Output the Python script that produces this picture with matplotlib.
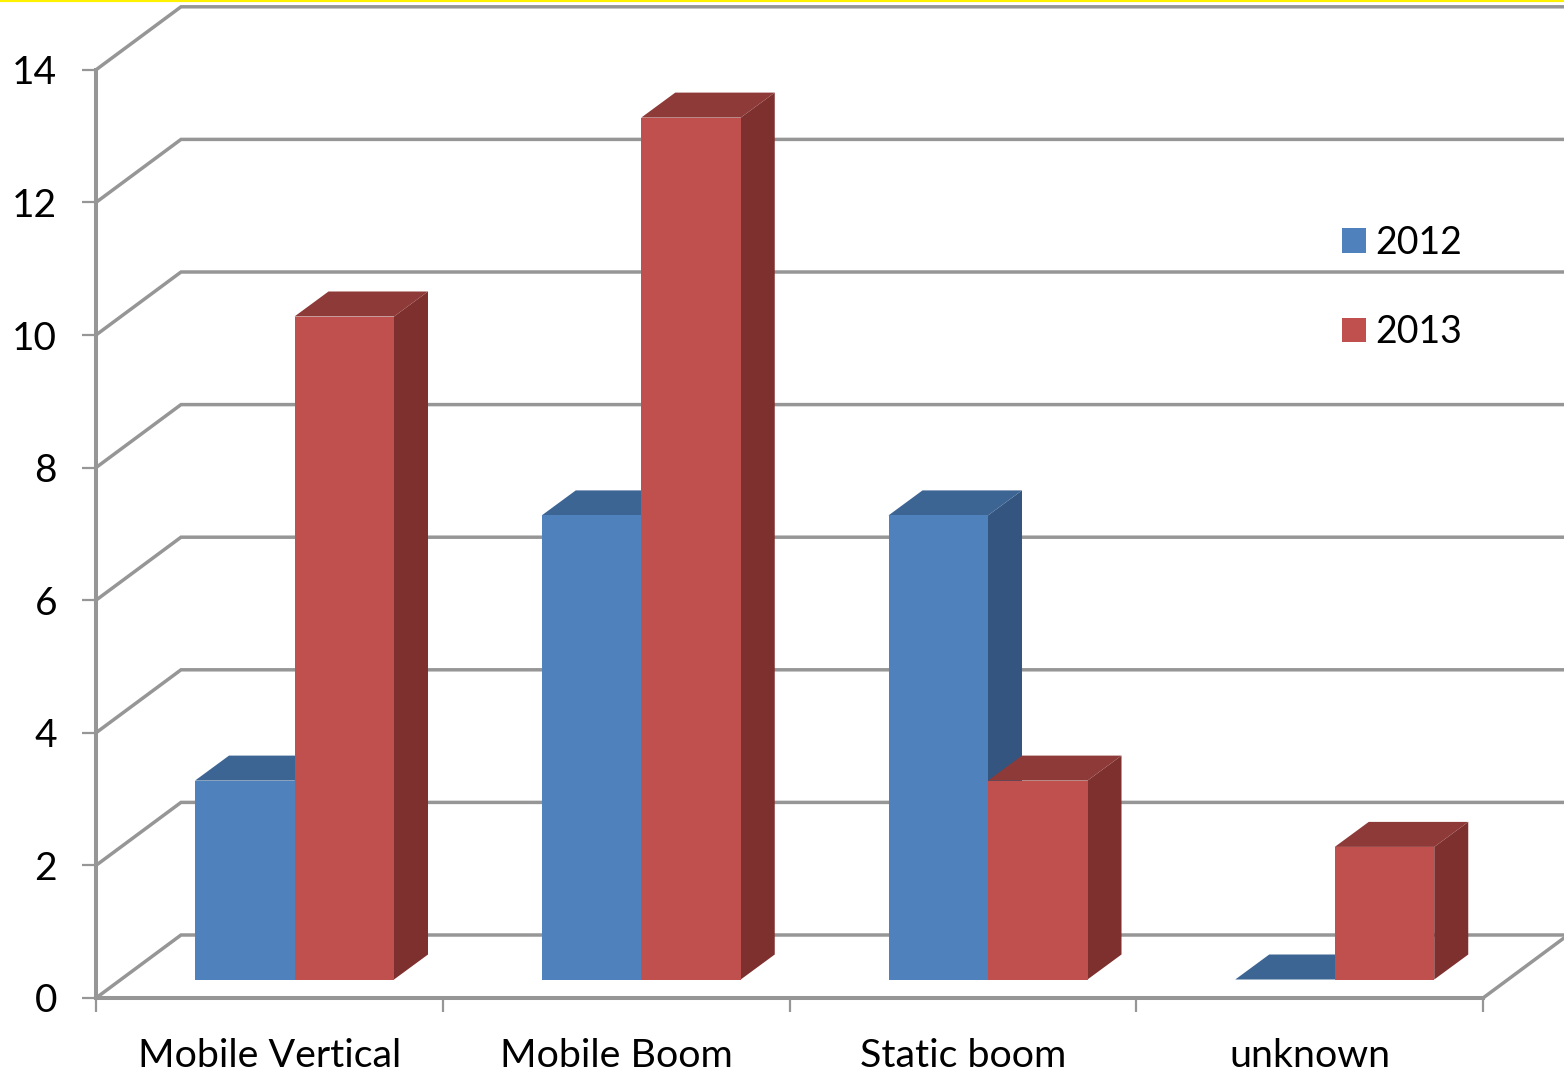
import numpy as np
import matplotlib.pyplot as plt
from matplotlib.patches import Patch

categories = ['Mobile Vertical', 'Mobile Boom', 'Static boom', 'unknown']
values_2012 = [3, 7, 7, 0]
values_2013 = [10, 13, 3, 2]
series_names = ['2012', '2013']
y_ticks = [0, 2, 4, 6, 8, 10, 12, 14]

plt.rcParams['font.family'] = ['Lato', 'DejaVu Sans']

# pixel sizes
W, H = 1564, 1071
x_px = 346.75
y_px = 66.3
x0_px, y0_px = 96, 998

GRID = '#969696'
LW = 2.5

fig = plt.figure(figsize=(W / 100, H / 100), dpi=100)
ax = fig.add_axes([0, 0, 1, 1])
ax.set_xlim(-x0_px / x_px, (W - x0_px) / x_px)
ax.set_ylim(-(H - y0_px) / y_px, y0_px / y_px)

# depth of the wall and of the bars, in data units
wall_dx, wall_dy = 85 / x_px, 63 / y_px
bar_dx, bar_dy = 34 / x_px, 25 / y_px
bar_off = 99 / x_px
bar_w = 99.5 / x_px
bar_base = 18.5 / y_px

# gridlines on the back wall and side wall
for t in y_ticks:
    ax.plot([0, wall_dx, 5], [t, t + wall_dy, t + wall_dy], color=GRID, lw=LW, zorder=1,
            solid_joinstyle='miter')
# floor right edge
ax.plot([4, 4 + wall_dx], [0, wall_dy], color=GRID, lw=LW, zorder=1)


def draw_bar(x, val, front, top, side, z):
    y = bar_base + val
    ax.fill([x + bar_w, x + bar_w + bar_dx, x + bar_w + bar_dx, x + bar_w],
            [bar_base, bar_base + bar_dy, y + bar_dy, y], color=side, lw=0, zorder=z)
    ax.fill([x, x + bar_dx, x + bar_w + bar_dx, x + bar_w],
            [y, y + bar_dy, y + bar_dy, y], color=top, lw=0, zorder=z)
    ax.bar(x, val, width=bar_w, bottom=bar_base, align='edge', color=front, lw=0, zorder=z)


for i in range(len(categories)):
    x = i + bar_off
    draw_bar(x, values_2012[i], '#4F81BD', '#3D6594', '#335580', 3)
    draw_bar(x + bar_w, values_2013[i], '#C0504D', '#8E3A38', '#7D302E', 4)

# axes
for s in ['top', 'right']:
    ax.spines[s].set_visible(False)
ax.spines['left'].set_position(('data', 0))
ax.spines['bottom'].set_position(('data', 0))
ax.spines['left'].set_bounds(0, 14)
ax.spines['bottom'].set_bounds(0, 4)
for s in ['left', 'bottom']:
    ax.spines[s].set_color(GRID)
    ax.spines[s].set_linewidth(LW + 0.4)
    ax.spines[s].set_zorder(2)

ax.set_yticks(y_ticks)
ax.tick_params(axis='y', length=10, width=1.6, color=GRID, labelsize=28, pad=18)
ax.set_xticks(range(5))
ax.set_xticklabels([])
ax.tick_params(axis='x', which='major', length=10, width=1.6, color=GRID)
ax.set_xticks(np.arange(4) + 0.5, minor=True)
ax.set_xticklabels(categories, minor=True)
ax.tick_params(axis='x', which='minor', length=0, labelsize=28.4, pad=28.5)

ax.legend(handles=[Patch(color='#4F81BD', lw=0, label=series_names[0]),
                   Patch(color='#C0504D', lw=0, label=series_names[1])],
          loc='upper left', bbox_to_anchor=(1342 / W, 1 - 225 / H), bbox_transform=fig.transFigure,
          frameon=False, fontsize=27, handlelength=0.64, handleheight=0.64,
          handletextpad=0.24, labelspacing=1.42, borderpad=0, borderaxespad=0)

# yellow strip along the top edge of the image
fig.add_artist(plt.Line2D([0, 1], [1, 1], color='#FFF200', lw=3, transform=fig.transFigure))

fig.savefig('out.png', dpi=100)
